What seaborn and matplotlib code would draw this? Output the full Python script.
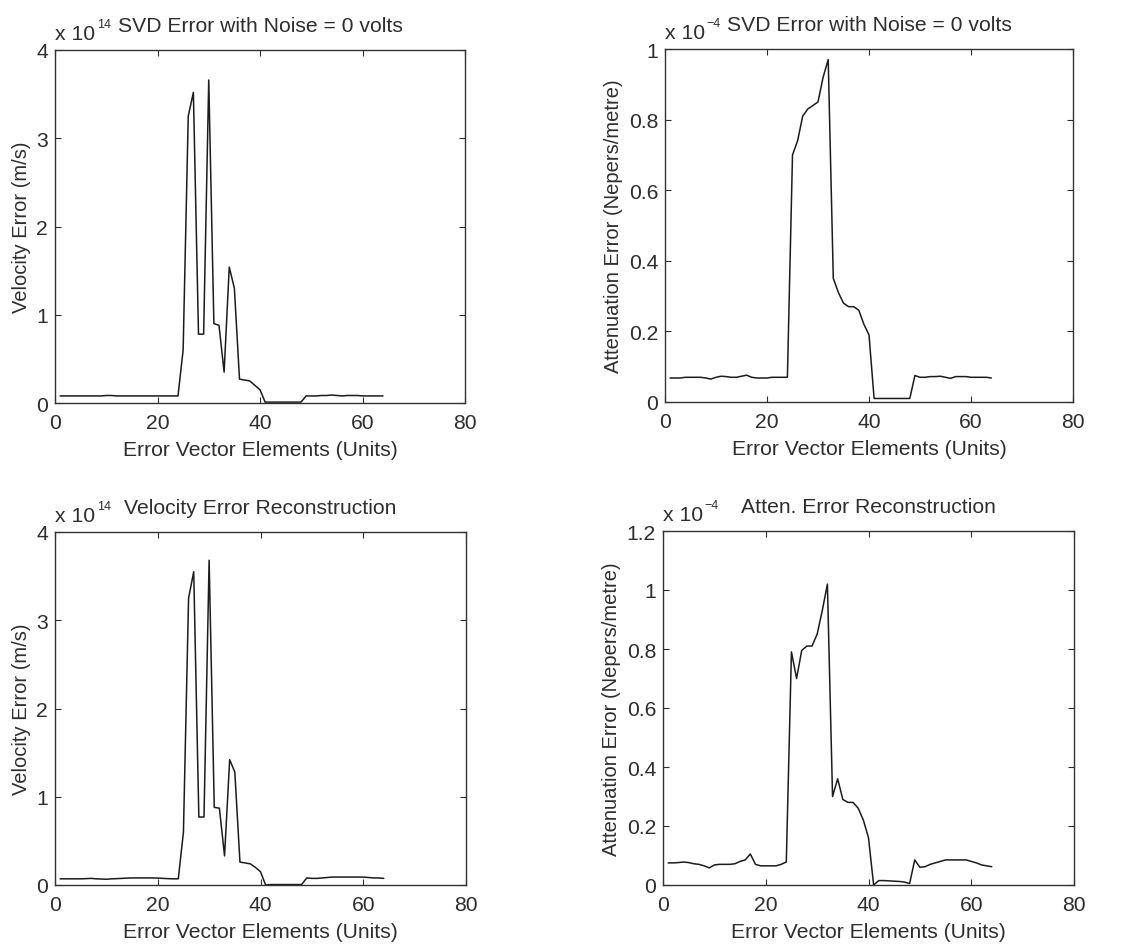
import numpy as np
import pandas as pd
import matplotlib
matplotlib.use("Agg")
import matplotlib.pyplot as plt
import seaborn as sns
from matplotlib.transforms import offset_copy

# ---------------- data ----------------
elements = list(range(1, 65))

# panel 1: velocity SVD error (units of 1e14 m/s)
vel_svd_e14 = [0.08, 0.08, 0.08, 0.08, 0.08, 0.08, 0.08, 0.08, 0.08, 0.085,
               0.085, 0.08, 0.08, 0.08, 0.08, 0.08, 0.08, 0.08, 0.08, 0.08,
               0.08, 0.08, 0.08, 0.08,
               0.6, 3.25, 3.52, 0.78, 0.78, 3.66, 0.9, 0.88, 0.35, 1.54,
               1.3, 0.27, 0.26, 0.25, 0.2, 0.15, 0.01, 0.01, 0.01, 0.01,
               0.01, 0.01, 0.01, 0.01, 0.08, 0.08, 0.08, 0.085, 0.085, 0.09,
               0.085, 0.08, 0.085, 0.085, 0.085, 0.08, 0.08, 0.08, 0.08, 0.08]

# panel 2: attenuation SVD error (units of 1e-4 Nepers/metre)
att_svd_em4 = [0.068, 0.068, 0.068, 0.07, 0.07, 0.07, 0.07, 0.068, 0.065, 0.07,
               0.073, 0.072, 0.07, 0.07, 0.073, 0.076, 0.07, 0.068, 0.068, 0.068,
               0.07, 0.07, 0.07, 0.07,
               0.70, 0.74, 0.81, 0.83, 0.84, 0.85, 0.92, 0.97, 0.35, 0.31,
               0.28, 0.27, 0.27, 0.26, 0.22, 0.19, 0.01, 0.01, 0.01, 0.01,
               0.01, 0.01, 0.01, 0.01, 0.075, 0.07, 0.07, 0.072, 0.072, 0.073,
               0.07, 0.067, 0.072, 0.072, 0.072, 0.07, 0.07, 0.07, 0.07, 0.068]

# panel 3: velocity error reconstruction (units of 1e14 m/s)
vel_rec_e14 = [0.07, 0.07, 0.07, 0.07, 0.07, 0.072, 0.075, 0.07, 0.068, 0.065,
               0.07, 0.072, 0.075, 0.078, 0.08, 0.08, 0.08, 0.08, 0.08, 0.078,
               0.075, 0.072, 0.07, 0.07,
               0.6, 3.25, 3.55, 0.77, 0.77, 3.68, 0.88, 0.87, 0.33, 1.42,
               1.28, 0.26, 0.25, 0.24, 0.2, 0.15, 0.0, 0.005, 0.005, 0.005,
               0.005, 0.005, 0.005, 0.005, 0.08, 0.075, 0.075, 0.08, 0.085, 0.09,
               0.09, 0.09, 0.09, 0.09, 0.09, 0.09, 0.085, 0.08, 0.08, 0.075]

# panel 4: attenuation error reconstruction (units of 1e-4 Nepers/metre)
att_rec_em4 = [0.075, 0.075, 0.076, 0.078, 0.076, 0.072, 0.07, 0.065, 0.058, 0.068,
               0.07, 0.07, 0.07, 0.072, 0.08, 0.085, 0.105, 0.07, 0.065, 0.065,
               0.065, 0.065, 0.07, 0.078,
               0.79, 0.70, 0.795, 0.81, 0.81, 0.85, 0.93, 1.02, 0.30, 0.36,
               0.29, 0.28, 0.28, 0.26, 0.22, 0.16, 0.0, 0.015, 0.015, 0.014,
               0.013, 0.012, 0.01, 0.005, 0.085, 0.06, 0.062, 0.07, 0.075, 0.08,
               0.085, 0.085, 0.085, 0.085, 0.085, 0.08, 0.075, 0.068, 0.065, 0.062]

titles = ["SVD Error with Noise = 0 volts", "SVD Error with Noise = 0 volts",
          "Velocity Error Reconstruction", "Atten. Error Reconstruction"]
exponents = ["14", "\u22124", "14", "\u22124"]
ylabels = ["Velocity Error (m/s)", "Attenuation Error (Nepers/metre)",
           "Velocity Error (m/s)", "Attenuation Error (Nepers/metre)"]
xlabel = "Error Vector Elements (Units)"
x_ticks = [0, 20, 40, 60, 80]
y_ticks = [[0, 1, 2, 3, 4], [0, 0.2, 0.4, 0.6, 0.8, 1],
           [0, 1, 2, 3, 4], [0, 0.2, 0.4, 0.6, 0.8, 1, 1.2]]
y_ticklabels = [["0", "1", "2", "3", "4"], ["0", "0.2", "0.4", "0.6", "0.8", "1"],
                ["0", "1", "2", "3", "4"], ["0", "0.2", "0.4", "0.6", "0.8", "1", "1.2"]]

# ---------------- style ----------------
sns.set_theme(style="ticks")
plt.rcParams['font.family'] = ['Liberation Sans', 'DejaVu Sans']
TXT = '#2e2e2e'
LINE = '#1c1c1c'
FS_H = 15.2
FS_V = 14.5
FS_SUP = 9

fig = plt.figure(figsize=(11.41, 9.53), dpi=100)
W, H = 1141.0, 953.0
# (left, top, right, bottom) in pixels
boxes = [(55, 51, 465, 404), (665, 50, 1073, 403),
         (55, 533, 466, 886), (663, 532, 1074, 886)]
series = [vel_svd_e14, att_svd_em4, vel_rec_e14, att_rec_em4]

base_texts = []
for i in range(4):
    l, t, r, b = boxes[i]
    ax = fig.add_axes([l / W, 1 - b / H, (r - l) / W, (b - t) / H])
    df = pd.DataFrame({"element": elements, "value": series[i]})
    sns.lineplot(data=df, x="element", y="value", ax=ax, color=LINE, linewidth=1.1)
    ax.set_xlim(0, 80)
    ax.set_ylim(y_ticks[i][0], y_ticks[i][-1])
    ax.set_xticks(x_ticks)
    ax.set_xticklabels([str(v) for v in x_ticks], fontsize=FS_H, color=TXT)
    ax.set_yticks(y_ticks[i])
    ax.set_yticklabels(y_ticklabels[i], fontsize=FS_H, color=TXT)
    ax.tick_params(direction='in', length=4, width=0.8, top=True, right=True,
                   colors=TXT)
    ax.tick_params(axis='x', pad=7)
    ax.tick_params(axis='y', pad=5)
    for sp in ax.spines.values():
        sp.set_visible(True)
        sp.set_color('#333333')
        sp.set_linewidth(1.0)
    ax.set_xlabel(xlabel, fontsize=FS_H, color=TXT, labelpad=6)
    ax.set_ylabel(ylabels[i], fontsize=FS_V, color=TXT, labelpad=4)
    ax.set_title(titles[i], fontsize=FS_H, color=TXT, pad=13.5)
    tr = offset_copy(ax.transAxes, fig=fig, x=0, y=8, units='points')
    txt = ax.text(0, 1, "x 10", transform=tr, ha='left', va='baseline',
                  fontsize=FS_H, color=TXT)
    base_texts.append((ax, txt, exponents[i]))
    ax.set_facecolor('white')

fig.canvas.draw()
renderer = fig.canvas.get_renderer()
for ax, txt, exp in base_texts:
    bb = txt.get_window_extent(renderer=renderer)
    # place superscript just right of "x 10", raised above its baseline
    ax_bb = ax.get_window_extent(renderer=renderer)
    dx_pts = (bb.x1 - ax_bb.x0 + 1.5) * 72.0 / fig.dpi
    tr2 = offset_copy(ax.transAxes, fig=fig, x=dx_pts, y=8 + 8.5, units='points')
    ax.text(0, 1, exp, transform=tr2, ha='left', va='baseline',
            fontsize=FS_SUP, color=TXT)

fig.savefig("out.png", dpi=100, facecolor='white')
